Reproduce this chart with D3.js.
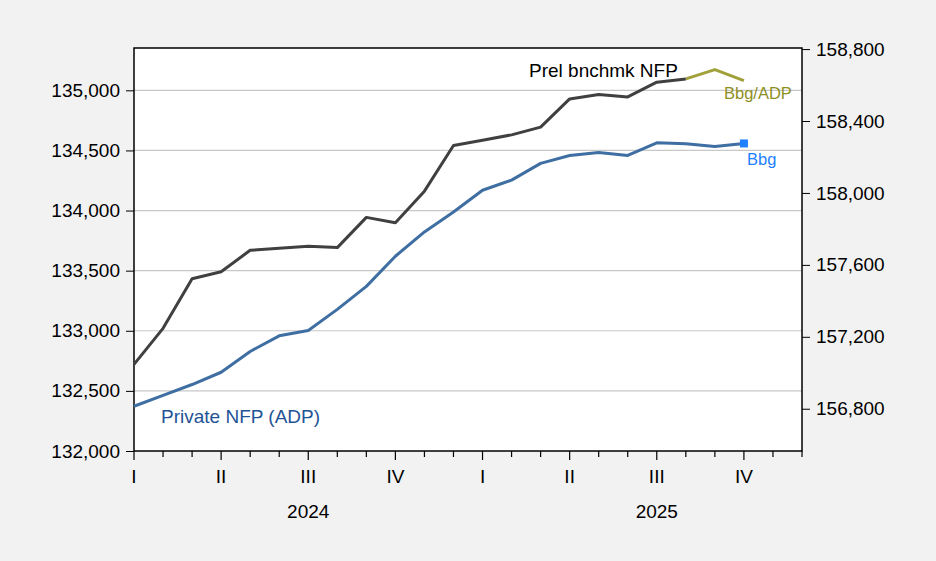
<!DOCTYPE html>
<html>
<head>
<meta charset="utf-8">
<script src="https://cdn.jsdelivr.net/npm/d3@7"></script>
<style>
  body { margin: 0; background: #f2f2f2; }
  svg { display: block; }
  text { font-family: "Liberation Sans", Arial, sans-serif; }
</style>
</head>
<body>
<div id="chart"></div>
<script>
// monthly data, Jan 2024 .. Dec 2025 (index 0 = Jan 2024)
const months = d3.range(24);
const quarterLabels = ["I", "II", "III", "IV", "I", "II", "III", "IV"];
const yearLabels = ["2024", "2025"];

// Private NFP (ADP), left axis, Jan 2024 - Oct 2025
const adp = [132372, 132463, 132553, 132655, 132828, 132958, 133003, 133178,
             133369, 133620, 133822, 133988, 134169, 134253, 134392, 134458,
             134483, 134458, 134563, 134555, 134533, 134558];

// Prel benchmark NFP, right axis, Jan 2024 - Aug 2025
const nfp = [157047, 157247, 157523, 157562, 157681, 157692, 157703, 157696,
             157864, 157834, 158010, 158264, 158293, 158323, 158366, 158523,
             158547, 158534, 158616, 158634];

// Bbg/ADP extension, Aug 2025 - Oct 2025
const bbgAdp = [[19, 158634], [20, 158686], [21, 158625]];

// Bbg point, Oct 2025
const bbg = [[21, 134558]];

const leftTicks = [132000, 132500, 133000, 133500, 134000, 134500, 135000];
const rightTicks = [156800, 157200, 157600, 158000, 158400, 158800];

const W = 936, H = 561;
const margin = { top: 48, right: 134, bottom: 110, left: 134 };
const width = W - margin.left - margin.right;
const height = H - margin.top - margin.bottom;
const fs = 19;

const svg = d3.select("#chart").append("svg")
  .attr("width", W).attr("height", H);

svg.append("rect").attr("width", W).attr("height", H).attr("fill", "#f2f2f2");

const g = svg.append("g").attr("transform", `translate(${margin.left},${margin.top})`);

const x = d3.scaleLinear().domain([0, 23]).range([0, width]);
const yL = d3.scaleLinear().domain([132000, 135352]).range([height, 0]);
const yR = d3.scaleLinear().domain([156565, 158806]).range([height, 0]);

// plot background
g.append("rect").attr("width", width).attr("height", height).attr("fill", "#ffffff");

// gridlines
g.selectAll(".grid").data(leftTicks.slice(1)).enter().append("line")
  .attr("class", "grid")
  .attr("x1", 0).attr("x2", width)
  .attr("y1", d => yL(d)).attr("y2", d => yL(d))
  .attr("stroke", "#c8c8c8").attr("stroke-width", 1.2);

// left axis
const axL = g.append("g")
  .call(d3.axisLeft(yL).tickValues(leftTicks).tickSize(8).tickPadding(6)
    .tickFormat(d3.format(",")));
axL.select(".domain").remove();

// right axis
const axR = g.append("g").attr("transform", `translate(${width},0)`)
  .call(d3.axisRight(yR).tickValues(rightTicks).tickSize(8).tickPadding(6)
    .tickFormat(d3.format(",")));
axR.select(".domain").remove();

[axL, axR].forEach(a => {
  a.selectAll("text").attr("font-size", fs).attr("fill", "#000");
  a.selectAll("line").attr("stroke", "#000");
});

// bottom axis: monthly minor ticks, quarterly major
const axB = g.append("g").attr("transform", `translate(0,${height})`);
axB.selectAll(".tk").data(months).enter().append("line")
  .attr("x1", d => x(d)).attr("x2", d => x(d))
  .attr("y1", 0).attr("y2", d => d % 3 === 0 ? 9 : 6)
  .attr("stroke", "#000").attr("stroke-width", 1.2);
axB.selectAll(".ql").data(quarterLabels).enter().append("text")
  .attr("x", (d, i) => x(i * 3)).attr("y", 32)
  .attr("text-anchor", "middle").attr("font-size", fs).text(d => d);
axB.selectAll(".yl").data(yearLabels).enter().append("text")
  .attr("x", (d, i) => x(i * 12 + 6)).attr("y", 67)
  .attr("text-anchor", "middle").attr("font-size", fs).text(d => d);

// frame
g.append("rect").attr("width", width).attr("height", height)
  .attr("fill", "none").attr("stroke", "#000").attr("stroke-width", 1.5);

// lines
const lineL = d3.line().x((d, i) => x(i)).y(d => yL(d));
const lineR = d3.line().x((d, i) => x(i)).y(d => yR(d));
const lineR2 = d3.line().x(d => x(d[0])).y(d => yR(d[1]));

g.append("path").datum(adp).attr("d", lineL)
  .attr("fill", "none").attr("stroke", "#3f6fa2").attr("stroke-width", 3)
  .attr("stroke-linejoin", "round");

g.append("path").datum(bbgAdp).attr("d", lineR2)
  .attr("fill", "none").attr("stroke", "#a1a13c").attr("stroke-width", 3)
  .attr("stroke-linejoin", "round");

g.append("path").datum(nfp).attr("d", lineR)
  .attr("fill", "none").attr("stroke", "#404040").attr("stroke-width", 3)
  .attr("stroke-linejoin", "round");

g.selectAll(".bbg").data(bbg).enter().append("rect")
  .attr("x", d => x(d[0]) - 4).attr("y", d => yL(d[1]) - 4)
  .attr("width", 8).attr("height", 8).attr("fill", "#1e7fff");

// series labels
svg.append("text").attr("x", 529).attr("y", 77).attr("font-size", fs)
  .attr("fill", "#000").text("Prel bnchmk NFP");
svg.append("text").attr("x", 724).attr("y", 99).attr("font-size", 16.5)
  .attr("fill", "#8f8f1f").text("Bbg/ADP");
svg.append("text").attr("x", 747).attr("y", 165).attr("font-size", 16.5)
  .attr("fill", "#1e7fff").text("Bbg");
svg.append("text").attr("x", 161).attr("y", 423).attr("font-size", fs)
  .attr("fill", "#1f5396").text("Private NFP (ADP)");
</script>
</body>
</html>
